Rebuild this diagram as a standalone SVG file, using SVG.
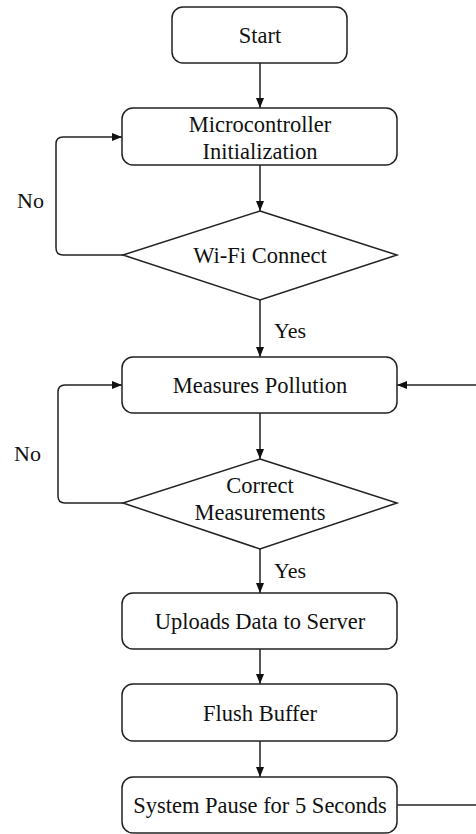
<svg xmlns="http://www.w3.org/2000/svg" width="476" height="834" viewBox="0 0 476 834">
  <style>
    .box { fill: #ffffff; stroke: #222222; stroke-width: 1.5; }
    .lbl { font-size: 22.5px; fill: #111111; text-anchor: middle; dominant-baseline: central; }
    .edge { fill: none; stroke: #222222; stroke-width: 1.5; }
    .tag { font-size: 22px; fill: #111111; dominant-baseline: central; }
  </style>
  <defs>
    <marker id="arrow" viewBox="0 0 10 8" refX="10" refY="4" markerWidth="10" markerHeight="8" markerUnits="userSpaceOnUse" orient="auto">
      <path d="M0,0 L10,4 L0,8 Z" fill="#111111"/>
    </marker>
  </defs>
  <rect width="476" height="834" fill="#ffffff"/>

  <g font-family="Liberation Serif, Times New Roman, DejaVu Serif, serif">
  <g id="connectors">
    <path class="edge" d="M260,63 V108" marker-end="url(#arrow)"/>
    <path class="edge" d="M260,165 V211" marker-end="url(#arrow)"/>
    <path class="edge" d="M123,255 H63 Q56,255 56,248 V144 Q56,137 63,137 H122" marker-end="url(#arrow)"/>
    <path class="edge" d="M260,300 V357" marker-end="url(#arrow)"/>
    <path class="edge" d="M260,413 V459" marker-end="url(#arrow)"/>
    <path class="edge" d="M123,503 H65 Q58,503 58,496 V392 Q58,385 65,385 H122" marker-end="url(#arrow)"/>
    <path class="edge" d="M260,549 V593" marker-end="url(#arrow)"/>
    <path class="edge" d="M260,649 V684" marker-end="url(#arrow)"/>
    <path class="edge" d="M260,741 V777" marker-end="url(#arrow)"/>
    <path class="edge" d="M397,805 H476"/>
    <path class="edge" d="M476,385 H397" marker-end="url(#arrow)"/>
    <text class="tag" x="17" y="200">No</text>
    <text class="tag" x="274" y="330">Yes</text>
    <text class="tag" x="14" y="453">No</text>
    <text class="tag" x="274" y="570">Yes</text>
  </g>

  <g id="start">
    <rect class="box" x="172" y="7" width="175" height="56" rx="11"/>
    <text class="lbl" x="260" y="35">Start</text>
  </g>
  <g id="init">
    <rect class="box" x="122" y="108" width="275" height="57" rx="11"/>
    <text class="lbl" x="260" y="124">Microcontroller</text>
    <text class="lbl" x="260" y="151">Initialization</text>
  </g>
  <g id="wifi">
    <polygon class="box" points="260,211 397,255 260,300 123,255"/>
    <text class="lbl" x="260" y="255">Wi-Fi Connect</text>
  </g>
  <g id="measure">
    <rect class="box" x="122" y="357" width="275" height="56" rx="11"/>
    <text class="lbl" x="260" y="385">Measures Pollution</text>
  </g>
  <g id="check">
    <polygon class="box" points="260,459 397,503 260,549 123,503"/>
    <text class="lbl" x="260" y="485">Correct</text>
    <text class="lbl" x="260" y="512">Measurements</text>
  </g>
  <g id="upload">
    <rect class="box" x="122" y="593" width="275" height="56" rx="11"/>
    <text class="lbl" x="260" y="621">Uploads Data to Server</text>
  </g>
  <g id="flush">
    <rect class="box" x="122" y="684" width="275" height="57" rx="11"/>
    <text class="lbl" x="260" y="713">Flush Buffer</text>
  </g>
  <g id="pause">
    <rect class="box" x="122" y="777" width="275" height="56" rx="11"/>
    <text class="lbl" x="260" y="805">System Pause for 5 Seconds</text>
  </g>
  </g>
</svg>
